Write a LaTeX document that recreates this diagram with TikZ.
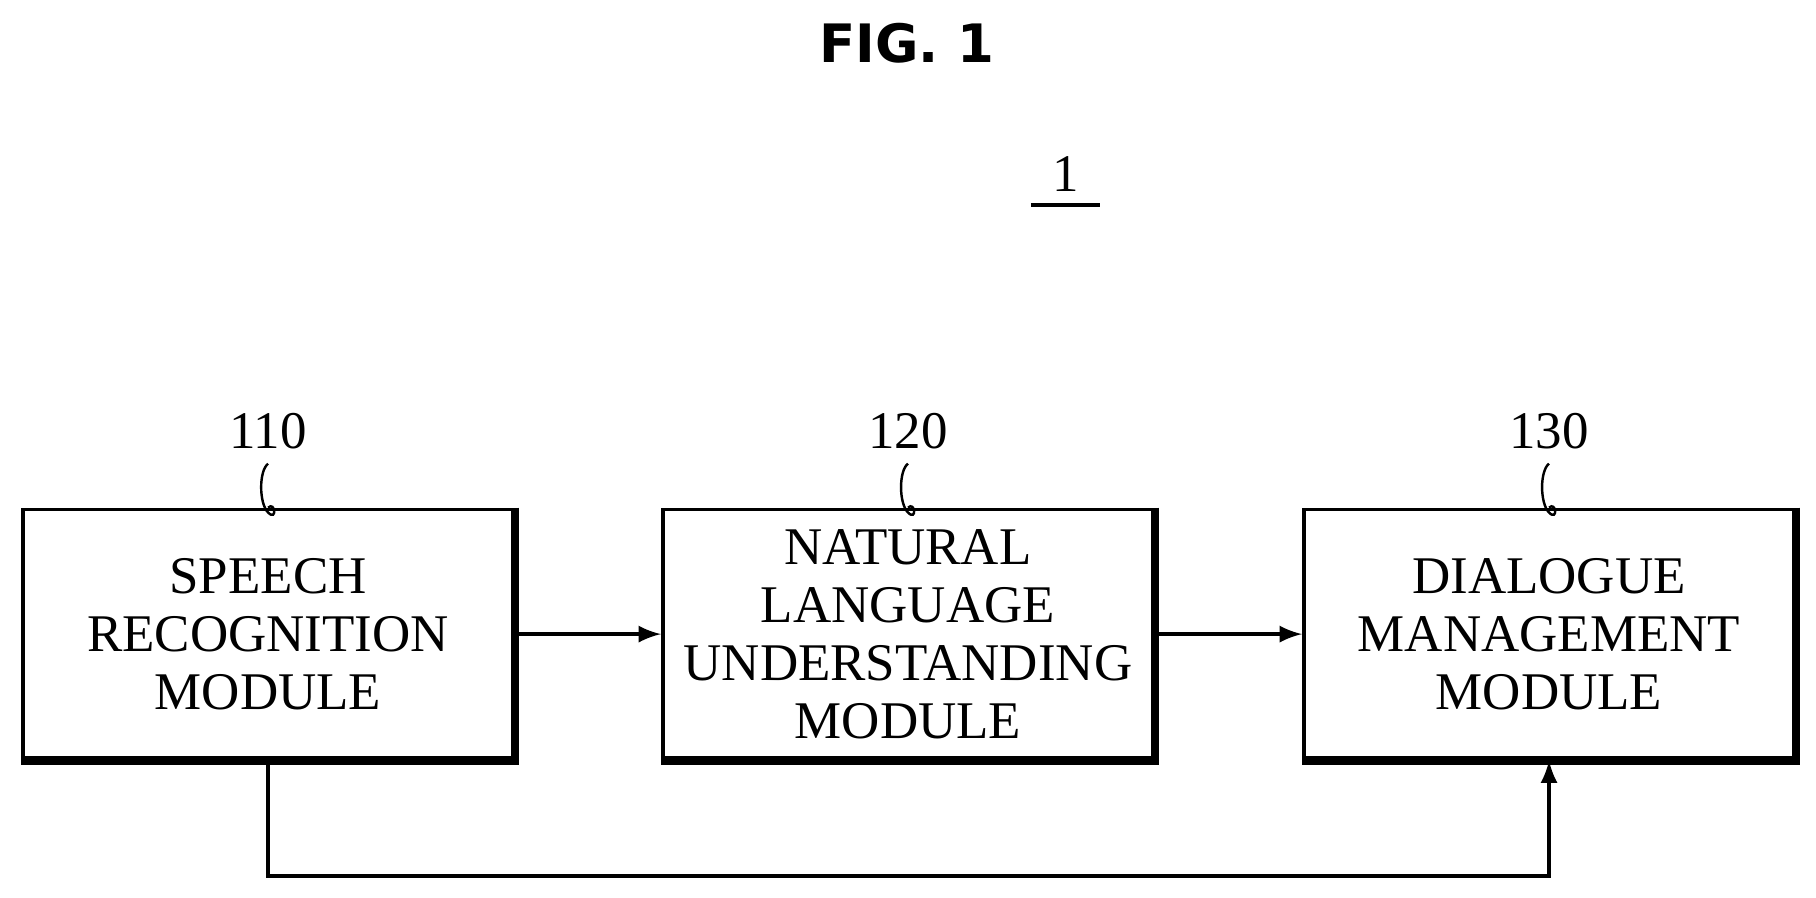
\documentclass[tikz,border=0pt]{standalone}
\usepackage{fontspec}
\setmainfont{Liberation Serif}
\newfontfamily\figfont{DejaVu Sans}
\usetikzlibrary{positioning}

\begin{document}
\begin{tikzpicture}[x=0.01cm,y=-0.01cm,
    module/.style={draw,line width=0.9pt,minimum width=4.23cm,minimum height=2.15cm,
      align=center,font=\fontsize{13}{14.2}\selectfont,inner sep=0pt},
    refnum/.style={font=\fontsize{13}{14}\selectfont},
    >={latex}]
            \useasboundingbox (0,0) rectangle (1568,775);
            \node (fig) at (783,37) {\figfont\bfseries\fontsize{13}{14}\selectfont FIG. 1};
            \node (sys) [refnum] at (920,150) {1};
            \draw[line width=1pt] (890,177) -- (950,177);

            \node (m110) [module] at (231.5,547.5) {SPEECH\\RECOGNITION\\MODULE};
            \node (m120) [module] at (784,547.5) {NATURAL\\LANGUAGE\\UNDERSTANDING\\MODULE};
            \node (m130) [module] at (1337.5,547.5) {DIALOGUE\\MANAGEMENT\\MODULE};

            \foreach \m/\t in {m110/110,m120/120,m130/130} {
              \draw[line width=2pt] (\m.north east) -- (\m.south east) -- (\m.south west);
              \node (l\t) [refnum,above=0.38cm of \m] {\t};
              \draw[line width=0.6pt] (l\t.south) .. controls +(-8,6) and +(-8,-8) .. ([yshift=-12]l\t.south)
                .. controls +(8,8) and +(6,-6) .. (\m.north);
            }

            \draw[->,line width=0.9pt] (m110) -- (m120);
            \draw[->,line width=0.9pt] (m120) -- (m130);
            \draw[->,line width=0.9pt] (m110.south) -- ++(0,100) -| (m130.south);
        \end{tikzpicture}
\end{document}
